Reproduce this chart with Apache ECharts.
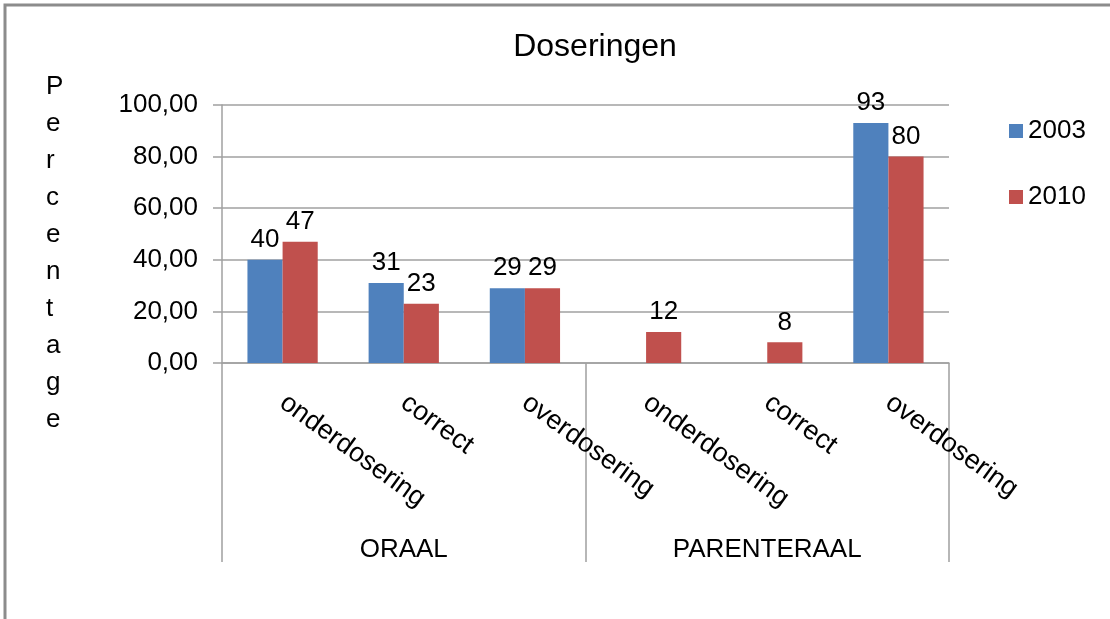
<!DOCTYPE html>
<html>
<head>
<meta charset="utf-8">
<script src="https://cdn.jsdelivr.net/npm/echarts@6/dist/echarts.min.js"></script>
<style>
  html, body { margin: 0; padding: 0; background: #fff; }
  #chart { width: 1110px; height: 619px; }
</style>
</head>
<body>
<div id="chart"></div>
<script>
// data
var categories = ["onderdosering", "correct", "overdosering", "onderdosering", "correct", "overdosering"];
var groups = ["ORAAL", "PARENTERAAL"];
var values2003 = [40, 31, 29, null, null, 93];
var values2010 = [47, 23, 29, 12, 8, 80];
var yTicks = { min: 0, max: 100, interval: 20 };

var chart = echarts.init(document.getElementById("chart"));
var font = "Liberation Sans, Arial, sans-serif";
var gray = "#a0a0a0";

function barLabel() {
  return {
    show: true,
    position: "top",
    distance: 7,
    color: "#000",
    fontFamily: font,
    fontSize: 26,
    formatter: function (p) { return Math.round(p.value); }
  };
}

var option = {
  backgroundColor: "#fff",
  animation: false,
  title: {
    text: "Doseringen",
    left: 590,
    textAlign: "center",
    top: 26,
    textStyle: { fontFamily: font, fontSize: 32, fontWeight: "normal", color: "#000" }
  },
  legend: {
    orient: "vertical",
    left: 1004,
    top: 113,
    itemWidth: 14,
    itemHeight: 14,
    itemGap: 40,
    icon: "rect",
    textStyle: { fontFamily: font, fontSize: 26, color: "#000" },
    data: ["2003", "2010"]
  },
  grid: { left: 222, right: 161, top: 105, bottom: 256 },
  xAxis: [
    {
      type: "category",
      data: categories,
      axisLine: { lineStyle: { color: gray, width: 1.5 } },
      axisTick: { show: false },
      axisLabel: {
        interval: 0,
        rotate: -36,
        margin: 37,
        color: "#000",
        fontFamily: font,
        fontSize: 27
      }
    },
    {
      type: "category",
      data: groups,
      position: "bottom",
      axisLine: { show: false },
      axisTick: { show: true, length: 199, lineStyle: { color: gray, width: 1.5 } },
      axisLabel: { margin: 174, color: "#000", fontFamily: font, fontSize: 26 }
    }
  ],
  yAxis: {
    type: "value",
    min: yTicks.min,
    max: yTicks.max,
    interval: yTicks.interval,
    axisLine: { show: true, lineStyle: { color: gray, width: 1.5 } },
    axisTick: { show: true, length: 9, lineStyle: { color: gray, width: 1.5 } },
    splitLine: { lineStyle: { color: gray, width: 1.5 } },
    axisLabel: {
      margin: 24,
      color: "#000",
      fontFamily: font,
      fontSize: 26,
      formatter: function (v) { return v.toFixed(2).replace(".", ","); }
    }
  },
  series: [
    {
      name: "2003",
      type: "bar",
      data: values2003,
      barGap: 0,
      barCategoryGap: "42%",
      itemStyle: { color: "#4f81bd" },
      label: barLabel()
    },
    {
      name: "2010",
      type: "bar",
      data: values2010,
      barGap: 0,
      barCategoryGap: "42%",
      itemStyle: { color: "#c0504d" },
      label: barLabel()
    }
  ],
  graphic: [
    {
      type: "rect",
      shape: { x: 5, y: 5, width: 1300, height: 800 },
      style: { fill: null, stroke: "#8c8c8c", lineWidth: 3 },
      silent: true
    },
    {
      type: "text",
      left: 46,
      top: 68,
      style: {
        text: "P\ne\nr\nc\ne\nn\nt\na\ng\ne",
        fontFamily: font,
        fontSize: 26,
        lineHeight: 37,
        align: "center",
        fill: "#000"
      }
    }
  ]
};

chart.setOption(option);
</script>
</body>
</html>
